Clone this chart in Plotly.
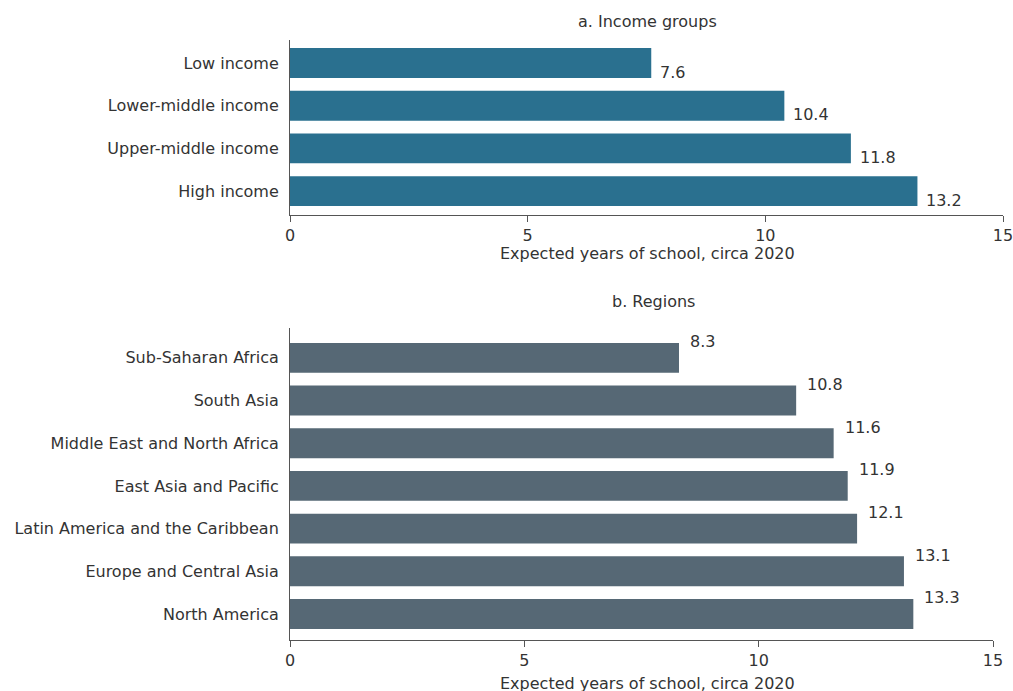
import plotly.graph_objects as go

W, H = 1013, 691

income_groups = ["Low income", "Lower-middle income", "Upper-middle income", "High income"]
income_values = [7.6, 10.4, 11.8, 13.2]

regions = ["Sub-Saharan Africa", "South Asia", "Middle East and North Africa",
           "East Asia and Pacific", "Latin America and the Caribbean",
           "Europe and Central Asia", "North America"]
region_values = [8.3, 10.8, 11.6, 11.9, 12.1, 13.1, 13.3]

x_ticks = [0, 5, 10, 15]
axis_title = "Expected years of school, circa 2020"
panel_titles = ["a. Income groups", "b. Regions"]

FONT = "DejaVu Sans"
FS = 16
TXT = "#333333"
TOP_COLOR = "#2a708f"
BOT_COLOR = "#566875"

def px_x(p):
    return p / W

def px_y(p):
    return 1 - p / H

fig = go.Figure()
fig.add_trace(go.Bar(x=income_values, y=income_groups, orientation="h",
                     marker=dict(color=TOP_COLOR, line=dict(width=0)), width=0.7,
                     xaxis="x", yaxis="y", hoverinfo="x+y"))
fig.add_trace(go.Bar(x=region_values, y=regions, orientation="h",
                     marker=dict(color=BOT_COLOR, line=dict(width=0)), width=0.7,
                     xaxis="x2", yaxis="y2", hoverinfo="x+y"))

annotations = []
for c, v in zip(income_groups, income_values):
    annotations.append(dict(x=v, y=c, xref="x", yref="y", text=f"{v:.1f}", showarrow=False,
                            xanchor="left", yanchor="middle", xshift=7, yshift=-9,
                            font=dict(family=FONT, size=FS, color=TXT)))
for c, v in zip(regions, region_values):
    annotations.append(dict(x=v, y=c, xref="x2", yref="y2", text=f"{v:.1f}", showarrow=False,
                            xanchor="left", yanchor="middle", xshift=9, yshift=16,
                            font=dict(family=FONT, size=FS, color=TXT)))

annotations.append(dict(x=px_x(647), y=px_y(22), xref="paper", yref="paper", text=panel_titles[0],
                        showarrow=False, xanchor="center", yanchor="middle",
                        font=dict(family=FONT, size=FS, color=TXT)))
annotations.append(dict(x=px_x(653), y=px_y(301), xref="paper", yref="paper", text=panel_titles[1],
                        showarrow=False, xanchor="center", yanchor="middle",
                        font=dict(family=FONT, size=FS, color=TXT)))
annotations.append(dict(x=px_x(647), y=px_y(254), xref="paper", yref="paper", text=axis_title,
                        showarrow=False, xanchor="center", yanchor="middle",
                        font=dict(family=FONT, size=FS, color=TXT)))
annotations.append(dict(x=px_x(647), y=px_y(683), xref="paper", yref="paper", text=axis_title,
                        showarrow=False, xanchor="center", yanchor="middle",
                        font=dict(family=FONT, size=FS, color=TXT)))

xaxis_common = dict(range=[0, 15], tickvals=x_ticks, showline=True, linecolor="#555555",
                    linewidth=1, ticks="outside", ticklen=6, tickcolor="#555555",
                    showgrid=False, zeroline=False, fixedrange=True, automargin=False,
                    ticklabeloverflow="allow",
                    tickfont=dict(family=FONT, size=FS, color=TXT))
yaxis_common = dict(showline=True, linecolor="#555555", linewidth=1, ticks="",
                    showgrid=False, zeroline=False, fixedrange=True, automargin=False,
                    ticklabelstandoff=7,
                    tickfont=dict(family=FONT, size=FS, color=TXT))

fig.update_layout(
    width=W, height=H,
    margin=dict(l=0, r=0, t=0, b=0),
    paper_bgcolor="white", plot_bgcolor="white",
    showlegend=False,
    bargap=0.3,
    xaxis=dict(domain=[px_x(290), px_x(1003)], anchor="y", **xaxis_common),
    yaxis=dict(domain=[px_y(215), px_y(40)], anchor="x", categoryorder="array",
               categoryarray=income_groups, range=[3.56, -0.54], **yaxis_common),
    xaxis2=dict(domain=[px_x(290), px_x(993)], anchor="y2", **xaxis_common),
    yaxis2=dict(domain=[px_y(640), px_y(328)], anchor="x2", categoryorder="array",
                categoryarray=regions, range=[6.61, -0.70], **yaxis_common),
    annotations=annotations,
    font=dict(family=FONT, size=FS, color=TXT),
)

fig.write_html(
    "out.html",
    config={"displayModeBar": False},
    post_script="document.body.style.margin='0';document.body.style.overflow='hidden';",
)
